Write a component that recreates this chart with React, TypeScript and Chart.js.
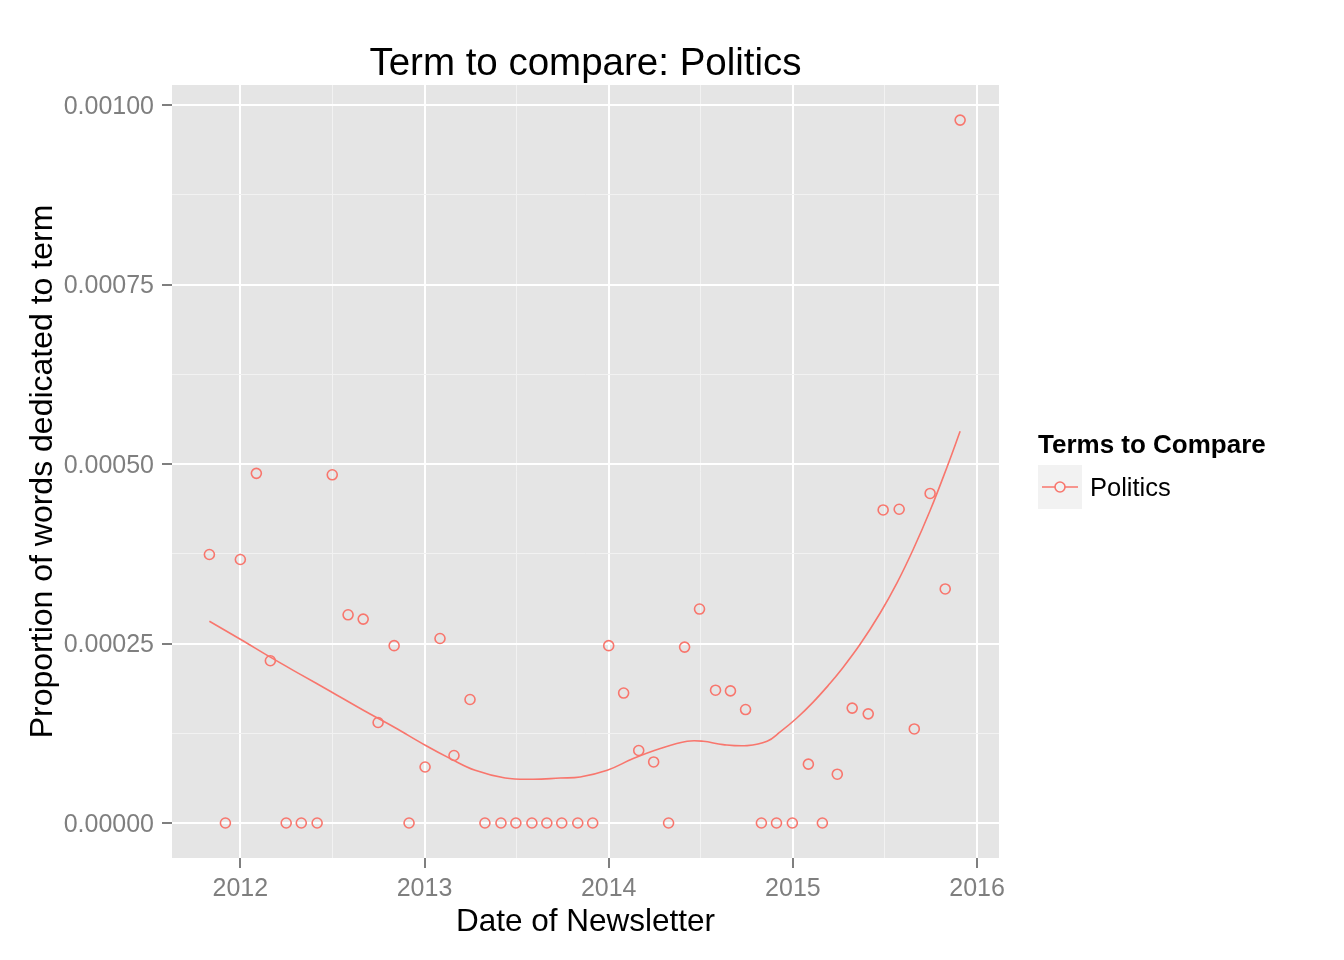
import React, { useEffect, useRef } from 'react';
import { Chart, registerables } from 'chart.js';

Chart.register(...registerables);

// ---- data ----
const chartTitle = 'Term to compare: Politics';
const xTitle = 'Date of Newsletter';
const yTitle = 'Proportion of words dedicated to term';
const legendTitle = 'Terms to Compare';
const seriesName = 'Politics';

const pointYears = [
  2011.832, 2011.919, 2012.0, 2012.087, 2012.163, 2012.249, 2012.331, 2012.417, 2012.499, 2012.585,
  2012.667, 2012.748, 2012.835, 2012.916, 2013.003, 2013.084, 2013.16, 2013.247, 2013.328, 2013.415,
  2013.496, 2013.583, 2013.664, 2013.745, 2013.832, 2013.913, 2014.0, 2014.081, 2014.163, 2014.244,
  2014.325, 2014.412, 2014.493, 2014.58, 2014.661, 2014.743, 2014.829, 2014.911, 2014.997, 2015.084,
  2015.16, 2015.241, 2015.322, 2015.409, 2015.49, 2015.577, 2015.659, 2015.745, 2015.827, 2015.908,
];
const pointValues = [
  0.000374, 0, 0.000367, 0.000487, 0.000226, 0, 0, 0, 0.000485, 0.00029,
  0.000284, 0.00014, 0.000247, 0, 0.000078, 0.000257, 0.000094, 0.000172, 0, 0,
  0, 0, 0, 0, 0, 0, 0.000247, 0.000181, 0.000101, 0.000085,
  0, 0.000245, 0.000298, 0.000185, 0.000184, 0.000158, 0, 0, 0, 0.000082,
  0, 0.000068, 0.00016, 0.000152, 0.000436, 0.000437, 0.000131, 0.000459, 0.000326, 0.000979,
];

const smoothYears = [
  2011.832, 2012.0, 2012.163, 2012.326, 2012.488, 2012.668, 2012.836, 2013.004, 2013.14, 2013.275,
  2013.438, 2013.59, 2013.737, 2013.845, 2013.992, 2014.133, 2014.28, 2014.426, 2014.513, 2014.621,
  2014.752, 2014.86, 2014.931, 2015.023, 2015.11, 2015.202, 2015.256, 2015.365, 2015.474, 2015.566,
  2015.653, 2015.745, 2015.837, 2015.908,
];
const smoothValues = [
  0.000281, 0.000256, 0.000231, 0.000207, 0.0001835, 0.000157, 0.0001333, 0.0001083, 0.0000897, 0.0000734,
  0.0000627, 0.0000609, 0.0000627, 0.0000641, 0.0000734, 0.0000897, 0.0001037, 0.0001138, 0.0001138, 0.0001092,
  0.0001078, 0.0001138, 0.0001268, 0.0001466, 0.0001684, 0.0001946, 0.0002113, 0.0002489, 0.0002925, 0.0003348,
  0.0003809, 0.0004352, 0.0004959, 0.0005456,
];

const xTickYears = [2012, 2013, 2014, 2015, 2016];
const xMinorYears = [2012.5, 2013.5, 2014.5, 2015.5];
const yTickValues = [0, 0.00025, 0.0005, 0.00075, 0.001];
const yMinorValues = [0.000125, 0.000375, 0.000625, 0.000875];

// ---- style ----
const FONT = '"Liberation Sans", Arial, sans-serif';
const RED = '#F8766D';
const PANEL = '#E5E5E5';
const MINOR = '#F2F2F2';
const TICK_GREY = '#7F7F7F';

const isIn = (arr: number[], v: number) => arr.some((a) => Math.abs(a - v) < 1e-9);

const decorPlugin = {
  id: 'ggDecor',
  beforeDraw(chart: any) {
    const { ctx, chartArea } = chart;
    ctx.save();
    ctx.fillStyle = PANEL;
    ctx.fillRect(chartArea.left, chartArea.top, chartArea.right - chartArea.left, chartArea.bottom - chartArea.top);
    ctx.restore();
  },
  afterDraw(chart: any) {
    const { ctx, chartArea } = chart;
    ctx.save();
    // title
    ctx.fillStyle = '#000000';
    ctx.font = `38.5px ${FONT}`;
    ctx.textAlign = 'center';
    ctx.textBaseline = 'middle';
    ctx.fillText(chartTitle, (chartArea.left + chartArea.right) / 2, 64);

    // legend
    ctx.textAlign = 'left';
    ctx.font = `bold 26px ${FONT}`;
    ctx.fillText(legendTitle, 1038, 446);
    ctx.fillStyle = MINOR;
    ctx.fillRect(1038, 465, 44, 44);
    ctx.strokeStyle = RED;
    ctx.lineWidth = 1.6;
    ctx.beginPath();
    ctx.moveTo(1042, 487);
    ctx.lineTo(1078, 487);
    ctx.stroke();
    ctx.beginPath();
    ctx.arc(1060, 487, 5, 0, Math.PI * 2);
    ctx.fillStyle = MINOR;
    ctx.fill();
    ctx.stroke();
    ctx.fillStyle = '#000000';
    ctx.font = `25.5px ${FONT}`;
    ctx.fillText(seriesName, 1090, 489);
    ctx.restore();
  },
};

export default function App() {
  const ref = useRef<HTMLCanvasElement | null>(null);

  useEffect(() => {
    if (!ref.current) return;
    const points = pointYears.map((x, i) => ({ x, y: pointValues[i] }));
    const smooth = smoothYears.map((x, i) => ({ x, y: smoothValues[i] }));

    const chart = new Chart(ref.current, {
      type: 'scatter',
      data: {
        datasets: [
          {
            type: 'line',
            label: seriesName + ' smooth',
            data: smooth,
            borderColor: RED,
            borderWidth: 1.6,
            pointRadius: 0,
            tension: 0.4,
            fill: false,
          } as any,
          {
            type: 'scatter',
            label: seriesName,
            data: points,
            borderColor: RED,
            backgroundColor: 'rgba(0,0,0,0)',
            borderWidth: 1.6,
            pointRadius: 5,
            pointHoverRadius: 5,
          } as any,
        ],
      },
      options: {
        animation: false,
        responsive: false,
        devicePixelRatio: 1,
        events: [],
        layout: { padding: { top: 85, right: 345, bottom: 0, left: 0 } },
        plugins: {
          legend: { display: false },
          tooltip: { enabled: false },
          title: { display: false },
        },
        scales: {
          x: {
            type: 'linear',
            min: 2011.629,
            max: 2016.119,
            afterFit: (scale: any) => {
              scale.height = 102;
            },
            afterBuildTicks: (scale: any) => {
              scale.ticks = [...xTickYears, ...xMinorYears].sort((a, b) => a - b).map((v) => ({ value: v }));
            },
            border: { display: false },
            grid: {
              color: (c: any) => (isIn(xTickYears, c.tick?.value) ? '#FFFFFF' : MINOR),
              lineWidth: (c: any) => (isIn(xTickYears, c.tick?.value) ? 2 : 1),
              tickColor: (c: any) => (isIn(xTickYears, c.tick?.value) ? TICK_GREY : 'rgba(0,0,0,0)'),
              tickWidth: 2,
              tickLength: 10,
              drawTicks: true,
            },
            ticks: {
              autoSkip: false,
              maxRotation: 0,
              padding: 6,
              color: TICK_GREY,
              font: { family: FONT, size: 25 },
              callback: (v: any) => (isIn(xTickYears, Number(v)) ? String(v) : ''),
            },
            title: {
              display: true,
              text: xTitle,
              color: '#000000',
              font: { family: FONT, size: 31.5 },
              padding: { top: 0, bottom: 19 },
            },
          },
          y: {
            type: 'linear',
            min: -0.00004875,
            max: 0.0010279,
            afterFit: (scale: any) => {
              scale.width = 172;
            },
            afterBuildTicks: (scale: any) => {
              scale.ticks = [...yTickValues, ...yMinorValues].sort((a, b) => a - b).map((v) => ({ value: v }));
            },
            border: { display: false },
            grid: {
              color: (c: any) => (isIn(yTickValues, c.tick?.value) ? '#FFFFFF' : MINOR),
              lineWidth: (c: any) => (isIn(yTickValues, c.tick?.value) ? 2 : 1),
              tickColor: (c: any) => (isIn(yTickValues, c.tick?.value) ? TICK_GREY : 'rgba(0,0,0,0)'),
              tickWidth: 2,
              tickLength: 10,
              drawTicks: true,
            },
            ticks: {
              autoSkip: false,
              padding: 8,
              labelOffset: 2,
              color: TICK_GREY,
              font: { family: FONT, size: 25 },
              callback: (v: any) => (isIn(yTickValues, Number(v)) ? Number(v).toFixed(5) : ''),
            },
            title: {
              display: true,
              text: yTitle,
              color: '#000000',
              font: { family: FONT, size: 32 },
              padding: { top: 24, bottom: 0 },
            },
          },
        },
      } as any,
      plugins: [decorPlugin],
    });

    return () => chart.destroy();
  }, []);

  return (
    <div style={{ position: 'absolute', left: 0, top: 0, width: 1344, height: 960, background: '#FFFFFF' }}>
      <canvas ref={ref} width={1344} height={960} style={{ width: 1344, height: 960, display: 'block' }} />
    </div>
  );
}
